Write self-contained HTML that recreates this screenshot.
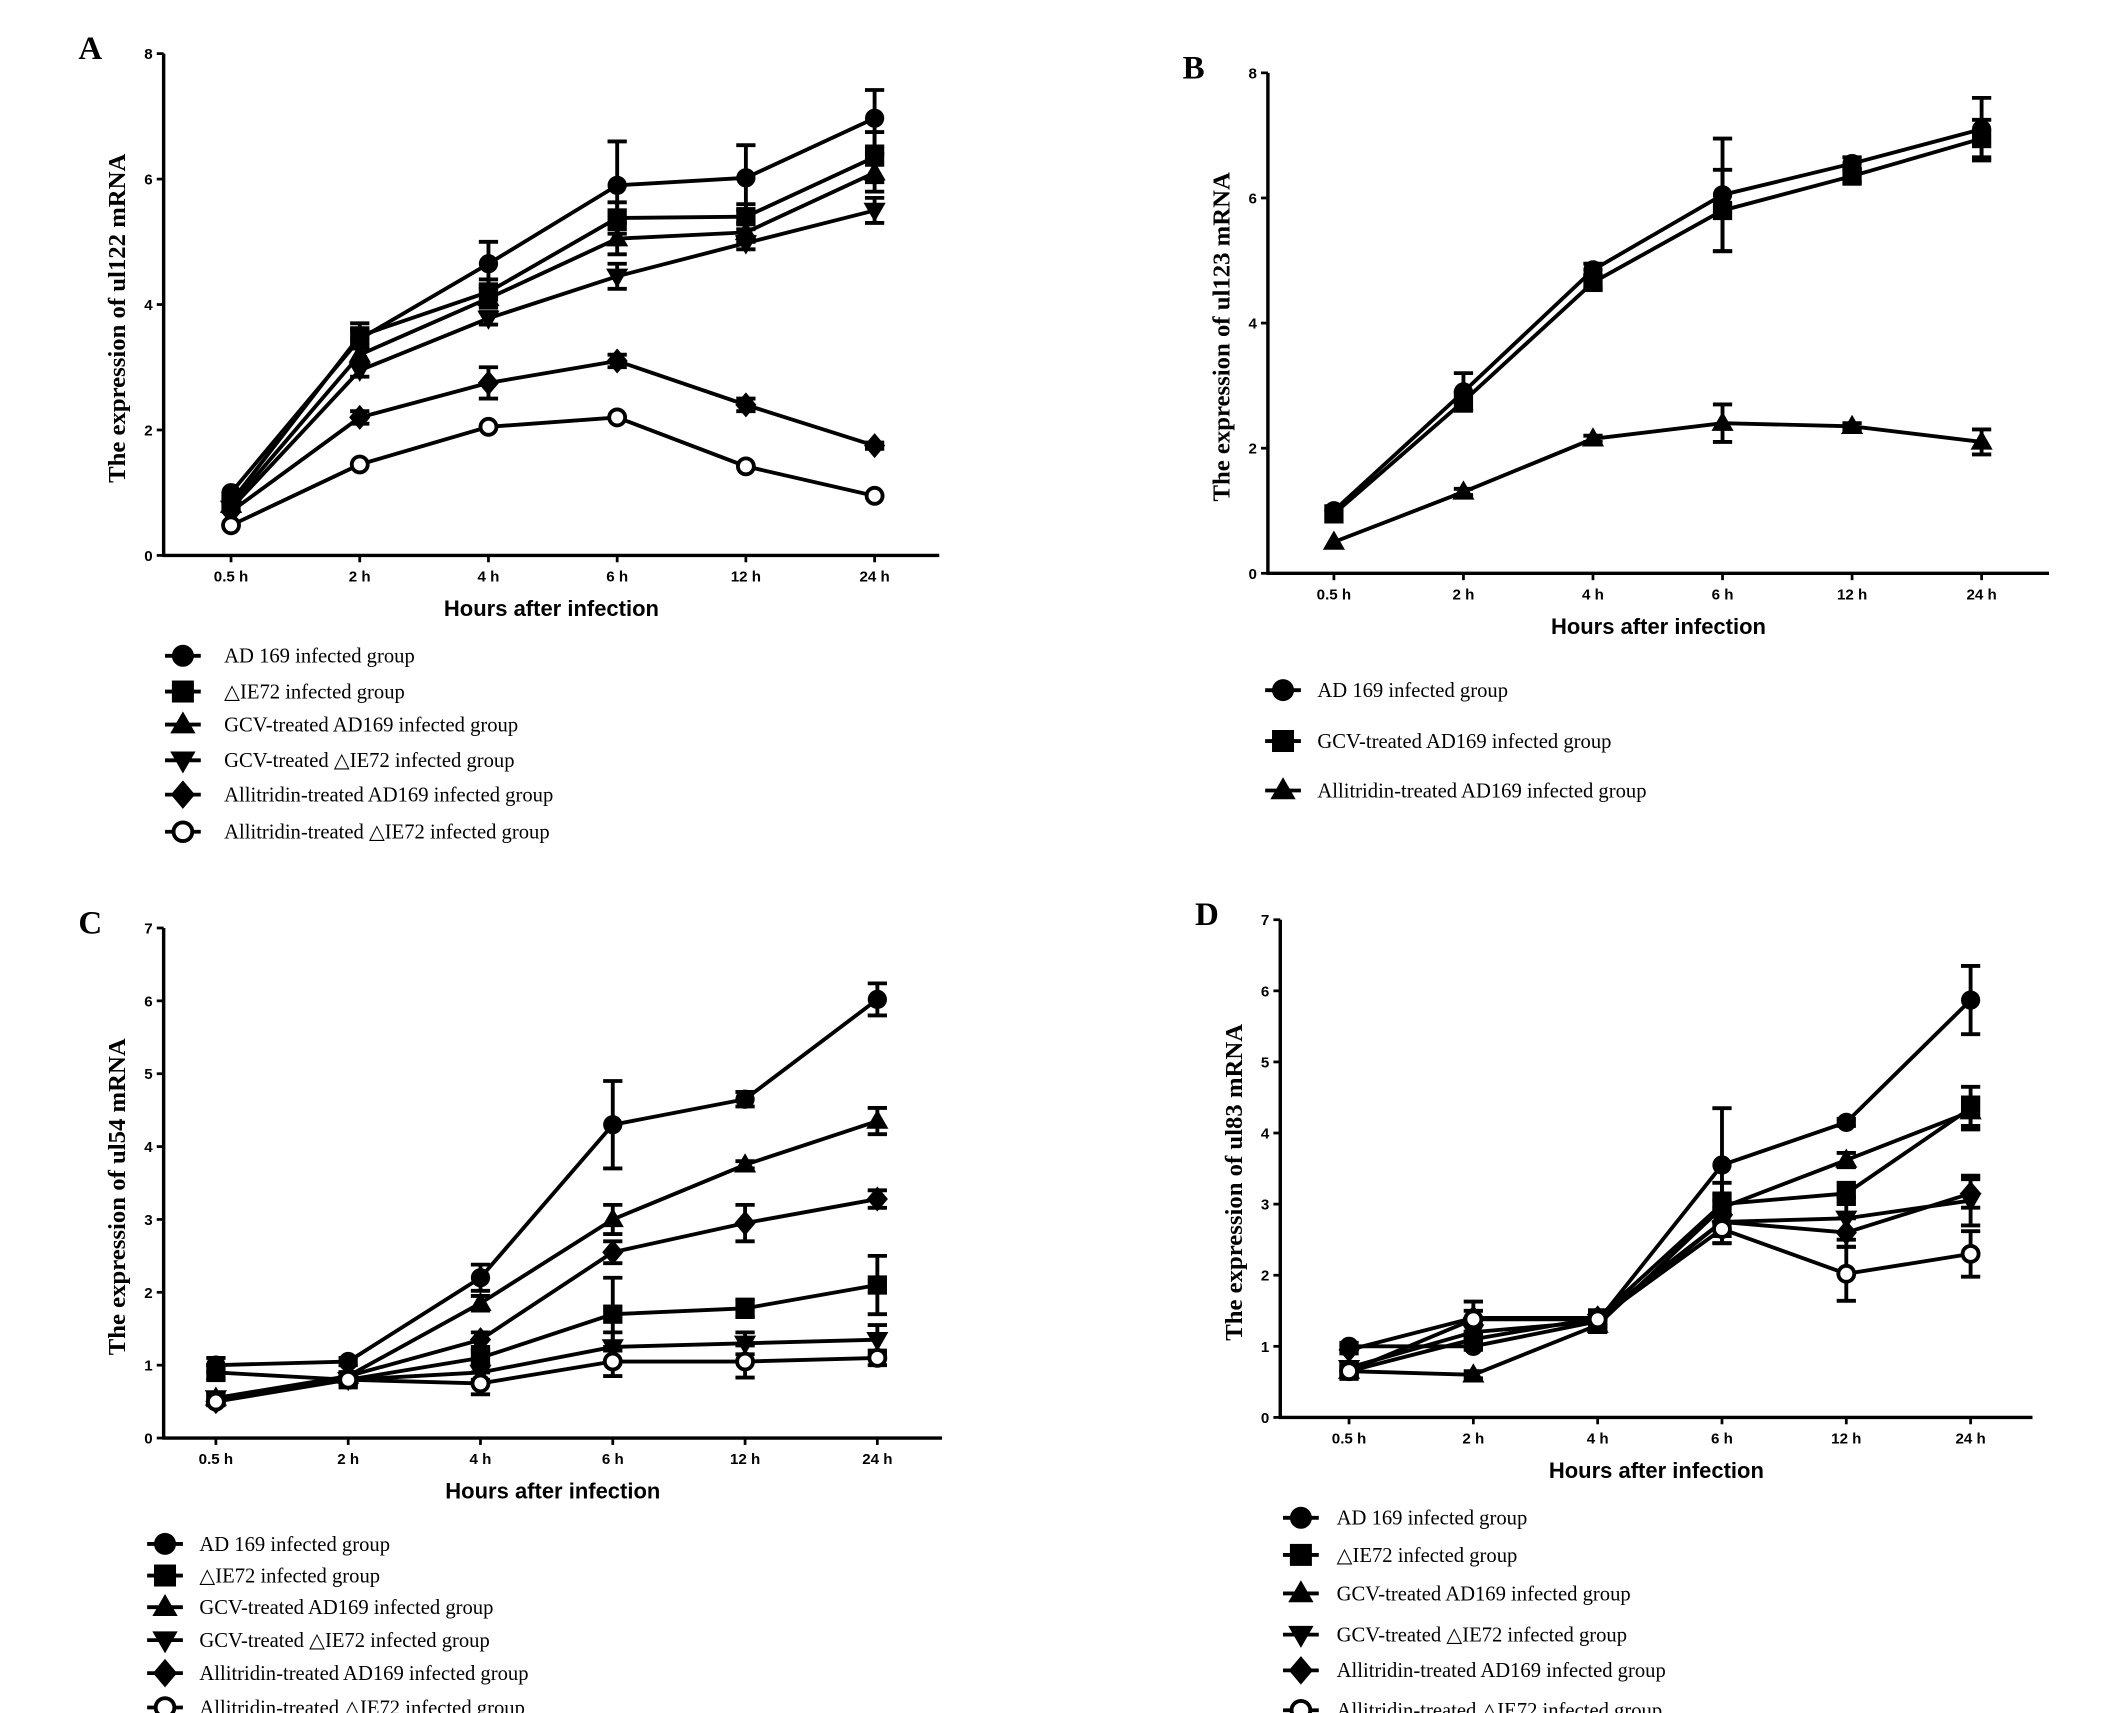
<!DOCTYPE html>
<html><head><meta charset="utf-8"><style>
html,body{margin:0;padding:0;background:#fff;}
svg{display:block;}
text{font-family:"Liberation Serif",serif;fill:#000;}
.tick{font-family:"Liberation Sans",sans-serif;font-weight:bold;font-size:11px;}
.axt{font-family:"Liberation Sans",sans-serif;font-weight:bold;font-size:16px;}
.leg{font-size:15px;}
.let{font-weight:bold;font-size:24px;}
</style></head><body>
<svg id="fig" width="2126" height="1713" viewBox="0 0 1546 1246" preserveAspectRatio="none" xmlns="http://www.w3.org/2000/svg"></svg>
<script>
const categories = ["0.5 h","2 h","4 h","6 h","12 h","24 h"];
const groupNames6 = ["AD 169 infected group","\u25B3IE72 infected group","GCV-treated AD169 infected group","GCV-treated \u25B3IE72 infected group","Allitridin-treated AD169 infected group","Allitridin-treated \u25B3IE72 infected group"];
const groupNamesB = ["AD 169 infected group","GCV-treated AD169 infected group","Allitridin-treated AD169 infected group"];
const markers6 = ["circle","square","triangle","invtriangle","diamond","open"];
const markersB = ["circle","square","triangle"];
const ticksA = [0,2,4,6,8];
const ticksC = [0,1,2,3,4,5,6,7];

// Panel A: ul122
const a_ad169 = [1.0,3.45,4.65,5.9,6.02,6.97];
const a_ie72 = [0.85,3.5,4.2,5.38,5.4,6.35];
const a_gcvAd = [0.8,3.2,4.1,5.05,5.15,6.1];
const a_gcvIe = [0.75,2.95,3.78,4.45,4.98,5.5];
const a_allAd = [0.7,2.2,2.75,3.1,2.4,1.75];
const a_allIe = [0.48,1.45,2.05,2.2,1.42,0.95];
const a_err_ad169 = [0,0.15,0.35,0.7,0.52,0.45];
const a_err_ie72 = [0,0.2,0.2,0.25,0.2,0.4];
const a_err_gcvAd = [0,0.15,0.15,0.25,0.15,0.3];
const a_err_gcvIe = [0,0.1,0.1,0.2,0.1,0.2];
const a_err_allAd = [0,0.1,0.25,0.1,0.1,0.05];
const a_err_allIe = [0,0,0,0,0,0];

// Panel B: ul123
const b_ad169 = [1.0,2.9,4.85,6.05,6.55,7.1];
const b_gcvAd = [0.95,2.75,4.65,5.8,6.35,6.95];
const b_allAd = [0.5,1.3,2.15,2.4,2.35,2.1];
const b_err_ad169 = [0,0.3,0.1,0.9,0.1,0.5];
const b_err_gcvAd = [0,0.15,0.1,0.65,0.1,0.3];
const b_err_allAd = [0,0.05,0.05,0.3,0.05,0.2];

// Panel C: ul54
const c_ad169 = [1.0,1.05,2.2,4.3,4.65,6.02];
const c_ie72 = [0.9,0.8,1.1,1.7,1.78,2.1];
const c_gcvAd = [0.55,0.85,1.85,3.0,3.75,4.35];
const c_gcvIe = [0.55,0.8,0.9,1.25,1.3,1.35];
const c_allAd = [0.5,0.85,1.35,2.55,2.95,3.28];
const c_allIe = [0.5,0.8,0.75,1.05,1.05,1.1];
const c_err_ad169 = [0.1,0.05,0.18,0.6,0.1,0.22];
const c_err_ie72 = [0.1,0.05,0.1,0.5,0.12,0.4];
const c_err_gcvAd = [0.05,0.05,0.1,0.2,0.05,0.18];
const c_err_gcvIe = [0.05,0.05,0.1,0.2,0.15,0.2];
const c_err_allAd = [0.05,0.05,0.1,0.15,0.25,0.12];
const c_err_allIe = [0.05,0.05,0.15,0.2,0.22,0.1];

// Panel D: ul83
const d_ad169 = [1.0,1.0,1.35,3.55,4.15,5.87];
const d_ie72 = [0.65,1.1,1.4,3.0,3.15,4.35];
const d_gcvAd = [0.65,0.6,1.3,2.95,3.62,4.3];
const d_gcvIe = [0.7,1.2,1.35,2.75,2.8,3.05];
const d_allAd = [0.95,1.4,1.4,2.75,2.6,3.15];
const d_allIe = [0.65,1.38,1.38,2.65,2.02,2.3];
const d_err_ad169 = [0.05,0.05,0.1,0.8,0.05,0.48];
const d_err_ie72 = [0.05,0.1,0.1,0.3,0.15,0.3];
const d_err_gcvAd = [0.05,0.05,0.1,0.2,0.1,0.2];
const d_err_gcvIe = [0.05,0.1,0.1,0.3,0.3,0.35];
const d_err_allAd = [0.05,0.1,0.1,0.2,0.2,0.2];
const d_err_allIe = [0.05,0.25,0.1,0.2,0.38,0.32];

const NS="http://www.w3.org/2000/svg";
const svg=document.getElementById('fig');
function mk(tag,attrs,parent){const e=document.createElementNS(NS,tag);for(const k in attrs)e.setAttribute(k,attrs[k]);(parent||svg).appendChild(e);return e;}

function marker(g,type,x,y,r){
  let e;
  if(type==="circle") e=mk('circle',{cx:x,cy:y,r:r,fill:'#000'},g);
  else if(type==="open") e=mk('circle',{cx:x,cy:y,r:r-1.2,fill:'#fff',stroke:'#000','stroke-width':2.8},g);
  else if(type==="square") e=mk('rect',{x:x-r,y:y-r,width:2*r,height:2*r,fill:'#000'},g);
  else if(type==="triangle") e=mk('polygon',{points:`${x},${y-r*1.2} ${x-r*1.15},${y+r*0.8} ${x+r*1.15},${y+r*0.8}`,fill:'#000'},g);
  else if(type==="invtriangle") e=mk('polygon',{points:`${x},${y+r*1.2} ${x-r*1.15},${y-r*0.8} ${x+r*1.15},${y-r*0.8}`,fill:'#000'},g);
  else if(type==="diamond") e=mk('polygon',{points:`${x},${y-r*1.3} ${x+r*1.1},${y} ${x},${y+r*1.3} ${x-r*1.1},${y}`,fill:'#000'},g);
  return e;
}

function panel(cfg){
  const g=mk('g',{});
  
  
  const ymax=cfg.ticks[cfg.ticks.length-1];
  const yS=v=>cfg.y0-(v/ymax)*(cfg.y0-cfg.yTop);
  const xS=i=>cfg.xFirst+i*(cfg.xLast-cfg.xFirst)/(categories.length-1);
  const L=mk('text',{x:cfg.ax-62,y:cfg.yTop+4,class:'let'},g);L.textContent=cfg.letter;
  
  const ya=mk('line',{x1:cfg.ax,y1:cfg.yTop,x2:cfg.ax,y2:cfg.y0,stroke:'#000','stroke-width':2.5},g);
  
  const xa=mk('line',{x1:cfg.ax-1,y1:cfg.y0,x2:cfg.xRight,y2:cfg.y0,stroke:'#000','stroke-width':2.5},g);
  
  cfg.ticks.forEach(t=>{
    mk('line',{x1:cfg.ax-5,y1:yS(t),x2:cfg.ax,y2:yS(t),stroke:'#000','stroke-width':2},g);
    const tx=mk('text',{x:cfg.ax-8,y:yS(t)+4,'text-anchor':'end',class:'tick'},g);tx.textContent=t;
    
  });
  categories.forEach((c,i)=>{
    mk('line',{x1:xS(i),y1:cfg.y0,x2:xS(i),y2:cfg.y0+5,stroke:'#000','stroke-width':2},g);
    const tx=mk('text',{x:xS(i),y:cfg.y0+19,'text-anchor':'middle',class:'tick'},g);tx.textContent=c;
    
  });
  const xt=mk('text',{x:(cfg.ax+cfg.xRight)/2,y:cfg.y0+44,'text-anchor':'middle',class:'axt'},g);xt.textContent='Hours after infection';
  
  const ym=(cfg.yTop+cfg.y0)/2+10;
  const yt=mk('text',{x:cfg.ax-28,y:ym,'text-anchor':'middle',class:'axt',transform:`rotate(-90 ${cfg.ax-28} ${ym})`},g);
  yt.style.fontFamily='"Liberation Serif",serif';yt.style.fontSize='18px';yt.textContent=cfg.ytitle;
  
  cfg.series.forEach((s,si)=>{
    const sg=mk('g',{},g);
    
    const pts=s.values.map((v,i)=>xS(i)+','+yS(v)).join(' ');
    mk('polyline',{points:pts,fill:'none',stroke:'#000','stroke-width':2.8},sg);
    s.values.forEach((v,i)=>{
      const e=s.err[i];
      if(e>0){
        mk('line',{x1:xS(i),y1:yS(v-e),x2:xS(i),y2:yS(v+e),stroke:'#000','stroke-width':2.8},sg);
        mk('line',{x1:xS(i)-7,y1:yS(v+e),x2:xS(i)+7,y2:yS(v+e),stroke:'#000','stroke-width':2.8},sg);
        mk('line',{x1:xS(i)-7,y1:yS(v-e),x2:xS(i)+7,y2:yS(v-e),stroke:'#000','stroke-width':2.8},sg);
      }
      const m=marker(sg,s.marker,xS(i),yS(v),7);
      
    });
  });
  const lg=mk('g',{},g);
  
  cfg.legendRows.forEach((ry,i)=>{
    const eg=mk('g',{},lg);
    
    mk('line',{x1:cfg.legX-13,y1:ry,x2:cfg.legX+13,y2:ry,stroke:'#000','stroke-width':2.8},eg);
    marker(eg,cfg.series[i].marker,cfg.legX,ry,8);
    const t=mk('text',{x:cfg.legTextX,y:ry+5,class:'leg'},eg);t.textContent=cfg.series[i].name;
  });
}

function ser(names,mks,vals,errs){return vals.map((v,i)=>({name:names[i],marker:mks[i],values:v,err:errs[i]}));}

panel({letter:'A',ax:119,yTop:39,y0:404,xRight:683,xFirst:168,xLast:636,ticks:ticksA,ytitle:'The expression of ul122 mRNA',
  series:ser(groupNames6,markers6,[a_ad169,a_ie72,a_gcvAd,a_gcvIe,a_allAd,a_allIe],[a_err_ad169,a_err_ie72,a_err_gcvAd,a_err_gcvIe,a_err_allAd,a_err_allIe]),
  legX:133,legTextX:163,legendRows:[477,503,527,553,578,605]});
panel({letter:'B',ax:922,yTop:53,y0:417,xRight:1490,xFirst:970,xLast:1441,ticks:ticksA,ytitle:'The expression of ul123 mRNA',
  series:ser(groupNamesB,markersB,[b_ad169,b_gcvAd,b_allAd],[b_err_ad169,b_err_gcvAd,b_err_allAd]),
  legX:933,legTextX:958,legendRows:[502,539,575]});
panel({letter:'C',ax:119,yTop:675,y0:1046,xRight:685,xFirst:157,xLast:638,ticks:ticksC,ytitle:'The expression of ul54 mRNA',
  series:ser(groupNames6,markers6,[c_ad169,c_ie72,c_gcvAd,c_gcvIe,c_allAd,c_allIe],[c_err_ad169,c_err_ie72,c_err_gcvAd,c_err_gcvIe,c_err_allAd,c_err_allIe]),
  legX:120,legTextX:145,legendRows:[1123,1146,1169,1193,1217,1242]});
panel({letter:'D',ax:931,yTop:669,y0:1031,xRight:1478,xFirst:981,xLast:1433,ticks:ticksC,ytitle:'The expression of ul83 mRNA',
  series:ser(groupNames6,markers6,[d_ad169,d_ie72,d_gcvAd,d_gcvIe,d_allAd,d_allIe],[d_err_ad169,d_err_ie72,d_err_gcvAd,d_err_gcvIe,d_err_allAd,d_err_allIe]),
  legX:946,legTextX:972,legendRows:[1104,1131,1159,1189,1215,1244]});
</script>
</body></html>
